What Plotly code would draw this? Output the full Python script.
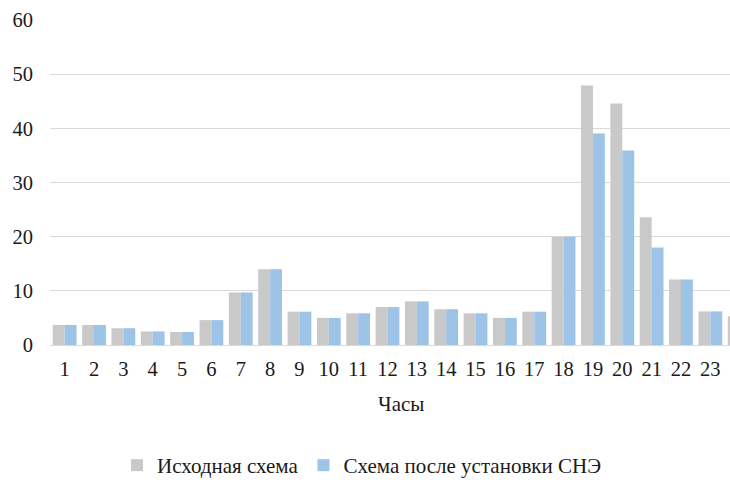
import plotly.graph_objects as go

hours = list(range(1, 25))
tick_labels = [str(h) for h in hours]
original = [3.7, 3.7, 3.1, 2.5, 2.4, 4.6, 9.7, 14.0, 6.15, 5.0, 5.85, 7.0,
            8.05, 6.6, 5.85, 5.0, 6.15, 20.0, 47.9, 44.6, 23.6, 12.1, 6.2, 5.3]
with_storage = [3.7, 3.7, 3.1, 2.5, 2.4, 4.6, 9.7, 14.0, 6.15, 5.0, 5.85, 7.0,
                8.05, 6.6, 5.85, 5.0, 6.15, 20.0, 39.05, 35.9, 18.0, 12.1, 6.2, 5.3]
y_ticks = [0, 10, 20, 30, 40, 50, 60]

FONT = "Liberation Serif"
TXT = "#1a1a1a"

fig = go.Figure()
fig.add_trace(go.Bar(x=hours, y=original, name="Исходная схема",
                     marker=dict(color="#C9C9C9", line=dict(width=0))))
fig.add_trace(go.Bar(x=hours, y=with_storage, name="Схема после установки СНЭ",
                     marker=dict(color="#9DC3E6", line=dict(width=0))))

fig.update_layout(
    width=730, height=486,
    margin=dict(l=49.5, r=0, t=20, b=141, autoexpand=False),
    paper_bgcolor="white", plot_bgcolor="white",
    barmode="group", bargap=0.19, bargroupgap=0,
    font=dict(family=FONT, size=20, color=TXT),
    showlegend=True,
    legend=dict(orientation="h", x=0.4959, xanchor="center", xref="container",
                y=29, yanchor="middle", yref="container",
                font=dict(family=FONT, size=21, color=TXT),
                tracegroupgap=0),
    xaxis=dict(range=[0.5, 23.67], tickmode="array", tickvals=hours,
               ticktext=tick_labels, showgrid=False, zeroline=False,
               showline=True, linecolor="#D9D9D9", linewidth=1,
               ticks="", ticklabelstandoff=5, automargin=False,
               tickfont=dict(family=FONT, size=20.5, color=TXT)),
    yaxis=dict(range=[0, 60], tickmode="array", tickvals=y_ticks,
               showgrid=True, gridcolor="#D9D9D9", gridwidth=1,
               zeroline=False, showline=False, ticks="",
               ticklabelstandoff=16, automargin=False,
               tickfont=dict(family=FONT, size=20.5, color=TXT)),
)

fig.add_annotation(text="Часы", xref="paper", yref="paper",
                   x=(401 - 49.5) / 680.5, y=-(404 - 345) / 325,
                   xanchor="center", yanchor="middle", showarrow=False,
                   font=dict(family=FONT, size=21, color=TXT))

fig.write_html("out.html",
               config={"displayModeBar": False},
               post_script="document.body.style.margin='0';document.body.style.overflow='hidden';")
